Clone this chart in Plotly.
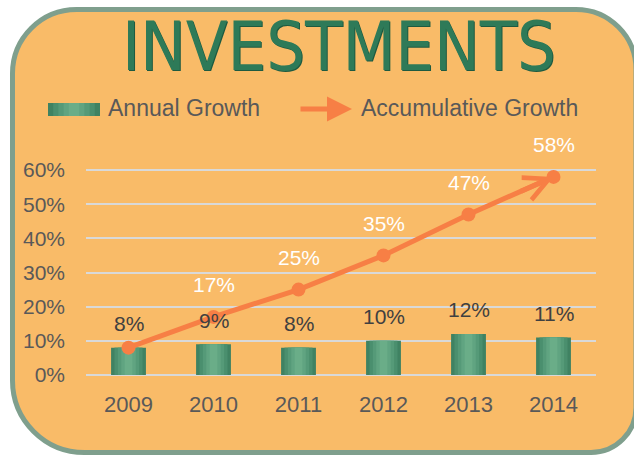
import plotly.graph_objects as go

# ---------------- data ----------------
years = ["2009", "2010", "2011", "2012", "2013", "2014"]
annual_growth = [8, 9, 8, 10, 12, 11]
accumulative_growth = [8, 17, 25, 35, 47, 58]
annual_labels = ["8%", "9%", "8%", "10%", "12%", "11%"]
accumulative_labels = ["", "17%", "25%", "35%", "47%", "58%"]
y_ticks = [0, 10, 20, 30, 40, 50, 60]
y_tick_labels = ["0%", "10%", "20%", "30%", "40%", "50%", "60%"]

# ---------------- layout geometry (pixels) ----------------
W, H = 634, 455
L, R, T, B = 86, 596, 168, 377
Y_RANGE = [-0.6, 60.6]


def px(x):
    return (x - L) / (R - L)


def py(y):
    return (B - y) / (B - T)


ORANGE_BG = "#F9BB68"
BORDER = "#7F9F8D"
LINE_ORANGE = "#F77F45"
TEXT_GRAY = "#595959"
FONT = "Liberation Sans, Arial, sans-serif"

fig = go.Figure()

# bars: gradient emulated by overlaid layers of decreasing width
bar_layers = [
    (0.41, "#3F8262"),
    (0.33, "#4A8F6E"),
    (0.25, "#559A78"),
    (0.17, "#60A481"),
    (0.09, "#6AAD88"),
]
for w, c in bar_layers:
    fig.add_trace(go.Bar(
        x=years, y=annual_growth, width=w,
        marker=dict(color=c, line=dict(width=0)),
        showlegend=False, hoverinfo="skip",
    ))

fig.add_trace(go.Scatter(
    x=years, y=accumulative_growth, mode="lines+markers",
    line=dict(color=LINE_ORANGE, width=5),
    marker=dict(color=LINE_ORANGE, size=14),
    showlegend=False, cliponaxis=False,
))

annotations = []
# bar value labels (x given as category index)
for i, (v, t) in enumerate(zip(annual_growth, annual_labels)):
    annotations.append(dict(
        x=i, y=v, xref="x", yref="y", text=t, showarrow=False,
        yanchor="middle", yshift=24,
        font=dict(family=FONT, size=21, color="#404040"),
    ))
# line value labels
for i, (v, t) in enumerate(zip(accumulative_growth, accumulative_labels)):
    if not t:
        continue
    annotations.append(dict(
        x=i, y=v, xref="x", yref="y", text=t, showarrow=False,
        yanchor="middle", yshift=32,
        font=dict(family=FONT, size=21, color="white"),
    ))

# chevron arrow head at last point
last_i = len(years) - 1
annotations.append(dict(
    x=last_i, y=accumulative_growth[-1],
    ax=last_i - 0.4,
    ay=accumulative_growth[-1] - 0.4 * (accumulative_growth[-1] - accumulative_growth[-2]),
    axref="x", ayref="y", xref="x", yref="y",
    text="", showarrow=True, arrowhead=5, arrowsize=0.95, arrowwidth=5,
    arrowcolor=LINE_ORANGE, standoff=0,
))

# title
annotations.append(dict(
    xref="paper", yref="paper", x=px(339), y=py(46),
    text="INVESTMENTS", showarrow=False, xanchor="center", yanchor="middle",
    font=dict(family="Liberation Sans Narrow, DejaVu Sans Condensed, Liberation Sans, sans-serif",
              size=68, color="#2E7A58",
              shadow="1px 1px 0px #1E5A40"),
))

# legend texts
annotations.append(dict(
    xref="paper", yref="paper", x=px(106), y=py(108),
    text="Annual Growth", showarrow=False, xanchor="left", yanchor="middle",
    font=dict(family=FONT, size=23, color=TEXT_GRAY),
))
annotations.append(dict(
    xref="paper", yref="paper", x=px(359), y=py(108),
    text="Accumulative Growth", showarrow=False, xanchor="left", yanchor="middle",
    font=dict(family=FONT, size=23, color=TEXT_GRAY),
))
# legend arrow
annotations.append(dict(
    xref="paper", yref="paper", x=px(352), y=py(109),
    ax=-53, ay=0, text="", showarrow=True, arrowhead=2, arrowsize=1.0,
    arrowwidth=5, arrowcolor=LINE_ORANGE, standoff=0,
))

shapes = []
# rounded background panel
x0, y0, x1, y1 = 12.5, 9.5, 636, 452.5
rtl, rtr, rbr, rbl = 64, 60, 45, 72
k = 0.5523


def P(x, y):
    return f"{px(x):.5f},{py(y):.5f}"


path = (
    f"M{P(x0 + rtl, y0)} L{P(x1 - rtr, y0)} "
    f"C{P(x1 - rtr + k * rtr, y0)} {P(x1, y0 + rtr - k * rtr)} {P(x1, y0 + rtr)} "
    f"L{P(x1, y1 - rbr)} "
    f"C{P(x1, y1 - rbr + k * rbr)} {P(x1 - rbr + k * rbr, y1)} {P(x1 - rbr, y1)} "
    f"L{P(x0 + rbl, y1)} "
    f"C{P(x0 + rbl - k * rbl, y1)} {P(x0, y1 - rbl + k * rbl)} {P(x0, y1 - rbl)} "
    f"L{P(x0, y0 + rtl)} "
    f"C{P(x0, y0 + rtl - k * rtl)} {P(x0 + rtl - k * rtl, y0)} {P(x0 + rtl, y0)} Z"
)
shapes.append(dict(type="path", xref="paper", yref="paper", path=path,
                   fillcolor=ORANGE_BG, line=dict(color=BORDER, width=5),
                   layer="below"))

# legend green swatch with gradient
lx0, lx1, ly0, ly1 = 48, 100, 103, 116
sw_layers = [(1.0, "#3F8262"), (0.8, "#4A8F6E"), (0.6, "#559A78"),
             (0.4, "#60A481"), (0.2, "#6AAD88")]
cx = (lx0 + lx1) / 2
for f, c in sw_layers:
    hw = (lx1 - lx0) / 2 * f
    shapes.append(dict(type="rect", xref="paper", yref="paper",
                       x0=px(cx - hw), x1=px(cx + hw), y0=py(ly1), y1=py(ly0),
                       fillcolor=c, line=dict(width=0), layer="above"))

fig.update_layout(
    width=W, height=H,
    margin=dict(l=L, r=W - R, t=T, b=H - B, pad=0),
    paper_bgcolor="white",
    plot_bgcolor="rgba(0,0,0,0)",
    barmode="overlay",
    showlegend=False,
    annotations=annotations,
    shapes=shapes,
    xaxis=dict(
        type="category", range=[-0.5, len(years) - 0.5],
        showgrid=False, showline=False, zeroline=False, ticks="",
        tickfont=dict(family=FONT, size=22, color=TEXT_GRAY),
        ticklabelstandoff=12, fixedrange=True,
    ),
    yaxis=dict(
        range=Y_RANGE, tickvals=y_ticks, ticktext=y_tick_labels,
        showgrid=True, gridcolor="#D9D9D9", gridwidth=2,
        showline=False, zeroline=False, ticks="",
        tickfont=dict(family=FONT, size=21, color=TEXT_GRAY),
        ticklabelstandoff=20, fixedrange=True,
    ),
)

fig.write_html(
    "out.html",
    config={"displayModeBar": False},
    post_script="document.body.style.margin='0';document.body.style.overflow='hidden';",
)
